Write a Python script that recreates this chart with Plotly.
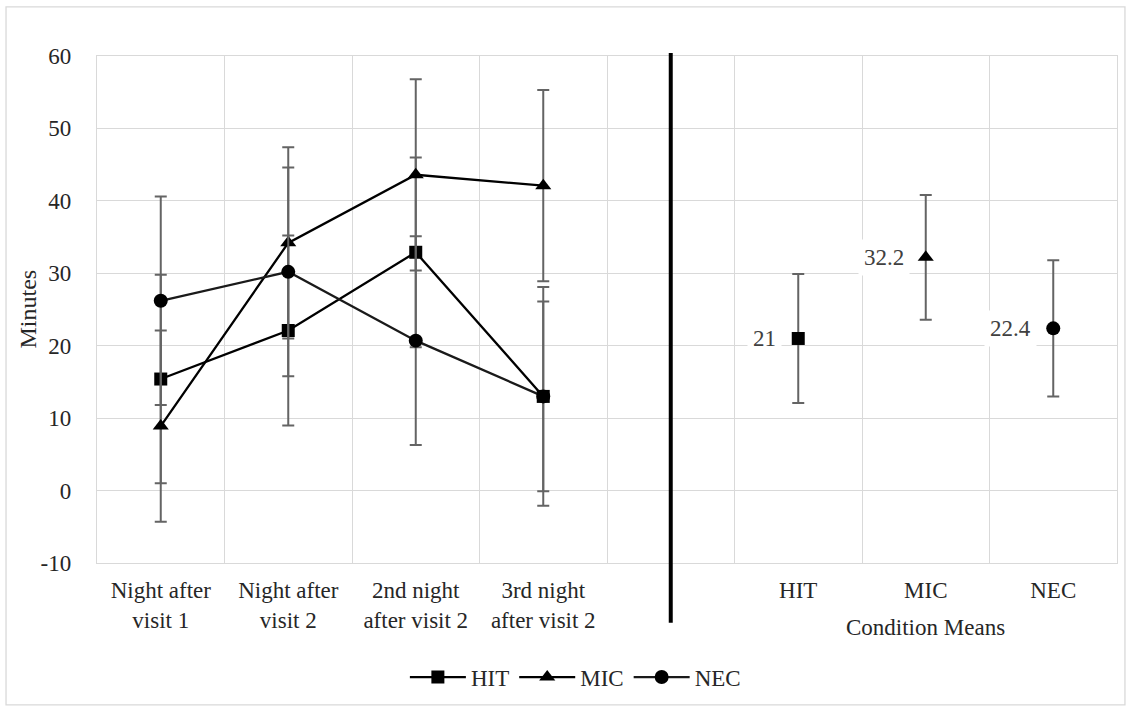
import plotly.graph_objects as go

# ---- data ----
categories = ["Night after<br>visit 1", "Night after<br>visit 2", "2nd night<br>after visit 2",
              "3rd night<br>after visit 2", " ", "HIT", "MIC", "NEC"]
nights = categories[:4]
separator_cat = " "
conditions = ["HIT", "MIC", "NEC"]

y_ticks = [-10, 0, 10, 20, 30, 40, 50, 60]

hit_vals = [15.4, 22.1, 32.9, 13.0]
hit_err = [14.4, 13.1, 13.1, 13.1]
mic_vals = [8.9, 34.2, 43.6, 42.1]
mic_err = [13.2, 13.2, 13.2, 13.2]
nec_vals = [26.2, 30.2, 20.7, 13.0]
nec_err = [14.4, 14.4, 14.4, 15.1]

mean_vals = [21, 32.2, 22.4]
mean_err = [8.9, 8.6, 9.4]

series_names = ["HIT", "MIC", "NEC"]
symbols = ["square", "triangle-up", "circle"]
marker_sizes = [13, 14, 14]
line_colors = ["#000000", "#000000", "#1a1a1a"]

FONT = "Liberation Serif"
TXT = "#262626"
ERRC = "#646464"
GRID = "#d9d9d9"

fig = go.Figure()

for name, vals, errs, sym, ms, lc in zip(series_names, [hit_vals, mic_vals, nec_vals],
                                          [hit_err, mic_err, nec_err], symbols, marker_sizes, line_colors):
    fig.add_trace(go.Scatter(
        x=nights, y=vals, name=name, mode="lines+markers",
        line=dict(color=lc, width=2.3),
        marker=dict(symbol=sym, size=ms, color="#000000"),
        error_y=dict(type="data", array=errs, visible=True, color=ERRC, thickness=2, width=6),
    ))

for cond, v, e, sym, ms in zip(conditions, mean_vals, mean_err, symbols, marker_sizes):
    fig.add_trace(go.Scatter(
        x=[cond], y=[v], mode="markers", showlegend=False,
        marker=dict(symbol=sym, size=ms, color="#000000"),
        error_y=dict(type="data", array=[e], visible=True, color=ERRC, thickness=2, width=6),
    ))
    fig.add_annotation(x=cond, y=v, xref="x", yref="y", text=f"{v:g}", showarrow=False,
                       xanchor="right", yanchor="middle", xshift=-16, bgcolor="white", borderpad=5,
                       font=dict(family=FONT, size=23, color="#404040"))

# thick separator line
sep_idx = categories.index(separator_cat)
fig.add_shape(type="line", xref="x", yref="paper", x0=sep_idx, x1=sep_idx, y0=-0.118, y1=1.006,
              line=dict(color="#000000", width=4))

# group title for the means
fig.add_annotation(x="MIC", y=-0.128, xref="x", yref="paper", text="Condition Means", showarrow=False,
                   xanchor="center", yanchor="middle", font=dict(family=FONT, size=23, color=TXT))

# y-axis title
fig.add_annotation(x=-0.0686, y=0.5, xref="paper", yref="paper", text="Minutes", showarrow=False,
                   textangle=-90, xanchor="center", yanchor="middle",
                   font=dict(family=FONT, size=24, color=TXT))

# outer chart border
fig.add_shape(type="rect", xref="paper", yref="paper", x0=-0.0892, x1=1.0078, y0=-0.280, y1=1.0967,
              line=dict(color=GRID, width=1.3), fillcolor="rgba(0,0,0,0)", layer="below")

fig.update_layout(
    width=1129, height=711, autosize=False,
    margin=dict(l=97, r=12, t=56, b=148),
    paper_bgcolor="white", plot_bgcolor="white",
    font=dict(family=FONT, size=23, color=TXT),
    showlegend=True,
    legend=dict(orientation="h", x=0.469, xanchor="center", y=-0.225, yanchor="middle",
                font=dict(family=FONT, size=23, color=TXT), itemwidth=56, tracegroupgap=0),
    xaxis=dict(type="category", categoryorder="array", categoryarray=categories,
               tickmode="array", tickvals=categories, ticktext=categories,
               tickson="boundaries", showgrid=True, gridcolor=GRID, gridwidth=1.3,
               ticks="", showline=True, linecolor=GRID, linewidth=1.3, mirror=True,
               range=[-0.5, len(categories) - 0.5], ticklabelstandoff=6, automargin=False,
               tickfont=dict(family=FONT, size=23, color=TXT)),
    yaxis=dict(range=[-10, 60], tickmode="array", tickvals=y_ticks, ticktext=[str(v) for v in y_ticks],
               showgrid=True, gridcolor=GRID, gridwidth=1.3,
               zeroline=False, showline=True, linecolor=GRID, linewidth=1.3, mirror=True,
               ticks="", ticklabelstandoff=20, automargin=False,
               tickfont=dict(family=FONT, size=23, color=TXT)),
)

fig.write_html("out.html", config={"displayModeBar": False},
               post_script="document.body.style.margin='0';")
